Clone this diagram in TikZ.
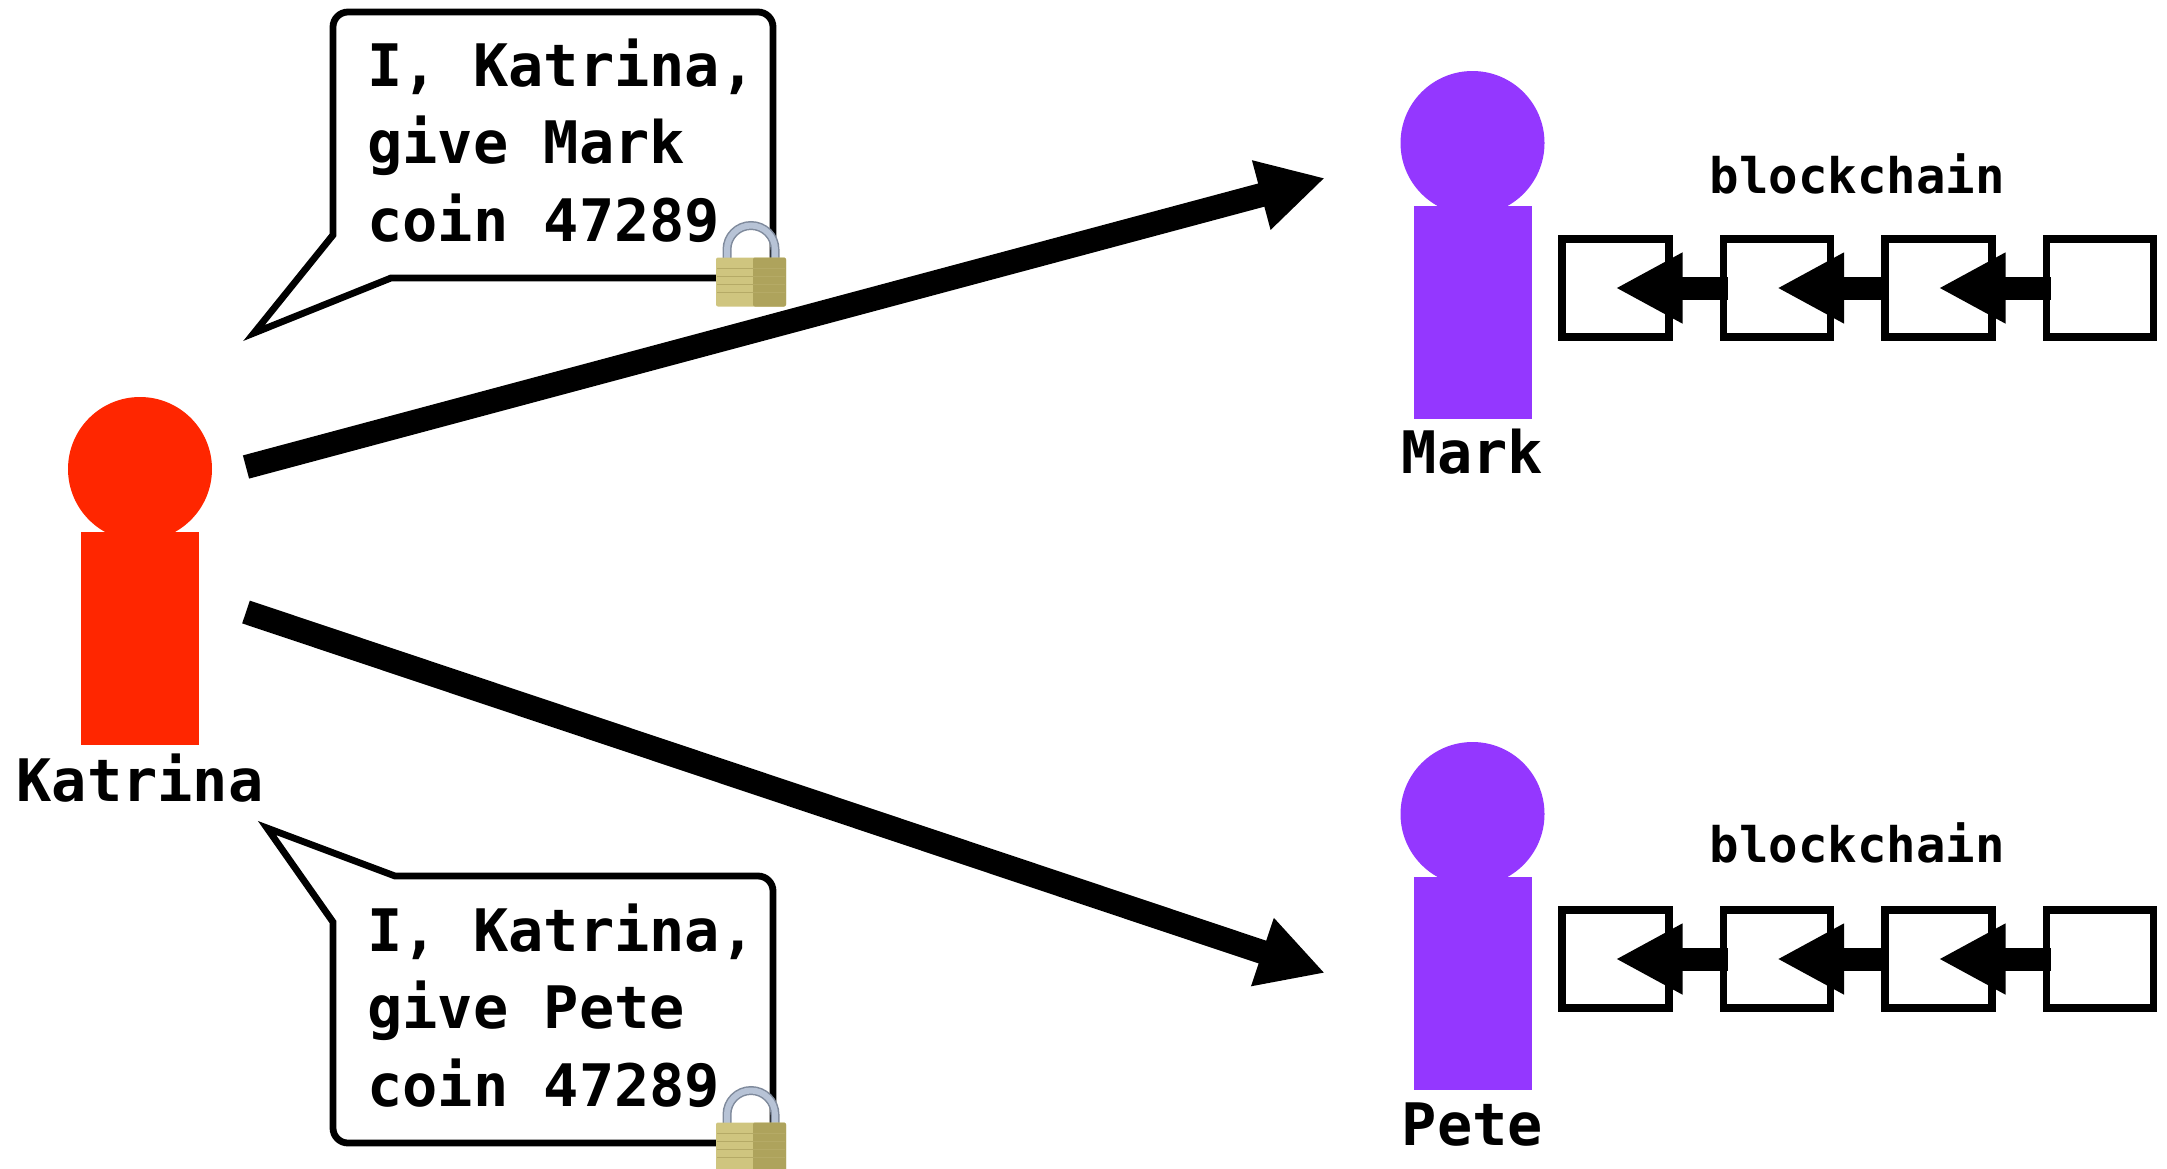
\documentclass[tikz,border=0pt]{standalone}
\usepackage{fontspec}
\setmonofont{DejaVu Sans Mono}
\usetikzlibrary{arrows.meta,positioning}
\definecolor{katrinared}{HTML}{FF2600}
\definecolor{nodepurple}{HTML}{9437FF}
\definecolor{lockgold}{HTML}{CFC57F}
\definecolor{lockdark}{HTML}{AEA35C}
\definecolor{lockline}{HTML}{B5AA66}
\definecolor{lockshackle}{HTML}{B7C3D6}
\definecolor{lockedge}{HTML}{7F8A9C}
\tikzset{padlock/.pic={
\draw[lockedge,line width=4.5pt] (-24,-24) -- (-24,-32.5) arc (180:360:24) -- (24,-24);
\draw[lockshackle,line width=3pt] (-24,-24) -- (-24,-32.5) arc (180:360:24) -- (24,-24);
\fill[lockgold,rounded corners=1pt] (-35,-24.5) rectangle (35,24.5);
\fill[lockdark,rounded corners=1pt] (2,-24.5) rectangle (35,24.5);
\foreach \y in {-14,-6,2,10}
  \draw[lockline,line width=0.4pt] (-34,\y) -- (34,\y);
}}
\begin{document}
\begin{tikzpicture}[x=0.5pt,y=-0.5pt]
\tikzstyle{personbody}=[rectangle,inner sep=0pt,outer sep=0pt,minimum width=59pt,minimum height=106.5pt]
\tikzstyle{personhead}=[circle,inner sep=0pt,outer sep=0pt,minimum size=72pt,node distance=84.75pt]
\tikzstyle{personname}=[inner sep=0pt,anchor=base,font=\fontsize{29.3}{34}\selectfont\ttfamily\bfseries]
\tikzstyle{chainname}=[inner sep=0pt,anchor=base,font=\fontsize{24.5}{28}\selectfont\ttfamily\bfseries]
\tikzstyle{block}=[rectangle,draw=black,line width=3.6pt,inner sep=0pt,outer sep=0pt,
minimum width=53.5pt,minimum height=49pt,node distance=80.75pt]
\tikzstyle{msg}=[inner sep=0pt,anchor=north west,align=left,font=\fontsize{29.3}{38.75}\selectfont\ttfamily\bfseries]
\tikzstyle{bubble}=[draw=black,line width=3.4pt,line join=miter,miter limit=20]
\tikzstyle{bigarrow}=[draw=black,line width=12pt,-{Triangle[length=33pt,width=33.5pt]}]
\tikzstyle{chainarrow}=[draw=black,line width=11.5pt,-{Triangle[length=33.5pt,width=33pt]}]
\useasboundingbox (0,0) rectangle (2167,1168);

\node[personbody,fill=katrinared] at (140,638.5) (katrinabody) {};
\node[personhead,fill=katrinared,above of =katrinabody] (katrinahead) {};
\node[personname] at (140,801) (katrinaname) {Katrina};

\node[personbody,fill=nodepurple] at (1472.5,312.5) (markbody) {};
\node[personhead,fill=nodepurple,above of =markbody] (markhead) {};
\node[personname] at (1472.5,473) (markname) {Mark};
\node[chainname] at (1857,193) (markchain) {blockchain};
\node[block] at (1615.5,288) (m1) {};
\node[block,right of =m1] (m2) {};
\node[block,right of =m2] (m3) {};
\node[block,right of =m3] (m4) {};

\node[personbody,fill=nodepurple] at (1472.5,983.5) (petebody) {};
\node[personhead,fill=nodepurple,above of =petebody] (petehead) {};
\node[personname] at (1472.5,1145) (petename) {Pete};
\node[chainname] at (1857,862) (petechain) {blockchain};
\node[block] at (1615.5,959) (p1) {};
\node[block,right of =p1] (p2) {};
\node[block,right of =p2] (p3) {};
\node[block,right of =p3] (p4) {};

\draw[chainarrow] ([xshift=2pt]m2.west) -- (m1.center) ;
\draw[chainarrow] ([xshift=2pt]m3.west) -- (m2.center) ;
\draw[chainarrow] ([xshift=2pt]m4.west) -- (m3.center) ;
\draw[chainarrow] ([xshift=2pt]p2.west) -- (p1.center) ;
\draw[chainarrow] ([xshift=2pt]p3.west) -- (p2.center) ;
\draw[chainarrow] ([xshift=2pt]p4.west) -- (p3.center) ;

\coordinate (fromtop) at (246,467);
\coordinate (totop) at (1325,178);
\coordinate (frombottom) at (246,612);
\coordinate (tobottom) at (1325,973);
\draw[bigarrow] (fromtop) -- (totop) ;
\draw[bigarrow] (frombottom) -- (tobottom) ;

\draw[bubble] (254,333) -- (391,278) [rounded corners=7.5pt] -- (773,278) -- (773,12) -- (333,12) [sharp corners] -- (333,235) -- cycle;
\draw[bubble] (267,828) -- (395,876) [rounded corners=7.5pt] -- (773,876) -- (773,1143) -- (333,1143) [sharp corners] -- (333,922) -- cycle;

\node[msg] at (367,38) (marktext) {I, Katrina,\\give Mark\\coin 47289};
\node[msg] at (367,903) (petetext) {I, Katrina,\\give Pete\\coin 47289};

\pic (marklock) at (751,282) {padlock};
\pic (petelock) at (751,1147) {padlock};
\end{tikzpicture}
\end{document}
